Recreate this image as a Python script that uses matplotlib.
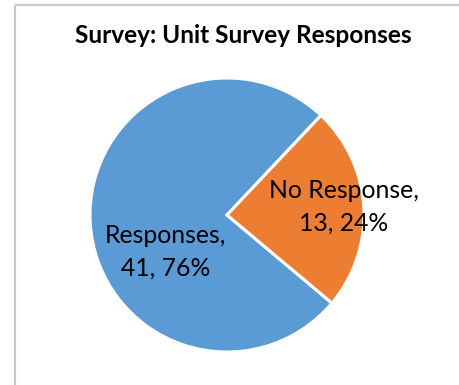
import matplotlib
matplotlib.use("Agg")
import matplotlib.pyplot as plt
from matplotlib.lines import Line2D

categories = ["Responses", "No Response"]
counts = [41, 13]
colors = ["#5B9BD5", "#ED7D31"]
title = "Survey: Unit Survey Responses"

plt.rcParams["font.family"] = ["Lato", "DejaVu Sans"]

W, H = 459, 385
fig = plt.figure(figsize=(W / 100, H / 100), dpi=100)
fig.patch.set_facecolor("white")

# chart-area frame (left and top edges visible)
fig.add_artist(Line2D([14.5 / W, 14.5 / W], [0, 1 - 4.5 / H], transform=fig.transFigure,
                      color="#c8c8c8", lw=1.6, solid_capstyle="butt"))
fig.add_artist(Line2D([14.5 / W, 1], [1 - 4.5 / H, 1 - 4.5 / H], transform=fig.transFigure,
                      color="#c8c8c8", lw=1.6, solid_capstyle="butt"))

# pie plot area: center (227, 215) px, radius 137 px
cx, cy, r = 227, 215, 137
ax = fig.add_axes([(cx - r) / W, (H - cy - r) / H, 2 * r / W, 2 * r / H])
wedges, _ = ax.pie(counts, colors=colors, startangle=-40, counterclock=False,
                   wedgeprops=dict(edgecolor="white", linewidth=2.2))
ax.set_xlim(-1, 1)
ax.set_ylim(-1, 1)
ax.set_axis_off()

total = sum(counts)
label_pos = [(-0.45, -0.27), (0.85, 0.06)]
for cat, v, (lx, ly) in zip(categories, counts, label_pos):
    pct = 100 * v / total
    ax.text(lx, ly, f"{cat},\n{v}, {pct:.0f}%", ha="center", va="center",
            fontsize=17.8, color="black", linespacing=1.5, multialignment="center")

fig.text(243 / W, 1 - 43 / H, title, ha="center", va="baseline",
         fontsize=17.6, fontweight="bold", color="black")

fig.savefig("out.png", dpi=100)
